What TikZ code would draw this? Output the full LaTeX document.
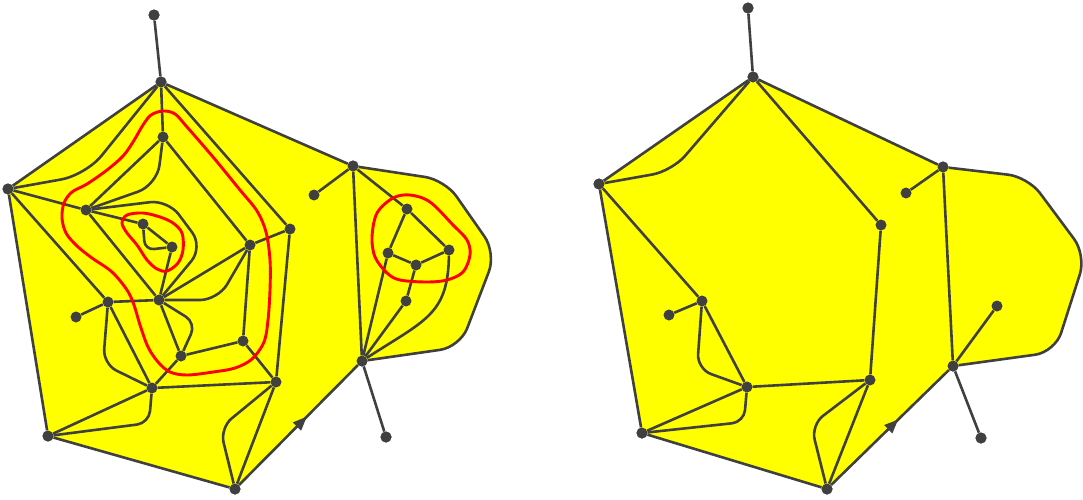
\documentclass[tikz,border=0pt]{standalone}
\usetikzlibrary{arrows.meta,decorations.markings}
\definecolor{dg}{RGB}{64,64,64}
\definecolor{yl}{RGB}{255,255,0}
\definecolor{rd}{RGB}{255,0,0}
\begin{document}
\begin{tikzpicture}[x=1pt,y=-1pt,
  dot/.style={circle,fill=dg,inner sep=0pt,minimum size=11pt},
  edge/.style={draw=dg,line width=2.6pt,line join=round},
  redline/.style={draw=rd,line width=2.9pt},
  midarrow/.style={postaction={decorate,decoration={markings,
      mark=at position 0.57 with {\arrow{Triangle[length=14pt,width=11pt]}}}}}]
\useasboundingbox (0,0) rectangle (1083,499);
% ---------- left diagram nodes ----------
\node[dot] (T0) at (154,15) {};
\node[dot] (A) at (161,82) {};
\node[dot] (B) at (163,137) {};
\node[dot] (L) at (8,189) {};
\node[dot] (C) at (86,210) {};
\node[dot] (D) at (143,224) {};
\node[dot] (E) at (172,247) {};
\node[dot] (F) at (250,245) {};
\node[dot] (G) at (290,229) {};
\node[dot] (H) at (159,300) {};
\node[dot] (I) at (108,302) {};
\node[dot] (Il) at (76,317) {};
\node[dot] (J) at (181,356) {};
\node[dot] (K) at (243,341) {};
\node[dot] (M) at (152,388) {};
\node[dot] (N) at (276,382) {};
\node[dot] (P) at (48,436) {};
\node[dot] (Q) at (235,489) {};
\node[dot] (R) at (353,166) {};
\node[dot] (Rl) at (314,195) {};
\node[dot] (S) at (407,209) {};
\node[dot] (U) at (388,253) {};
\node[dot] (V) at (416,265) {};
\node[dot] (W) at (449,250) {};
\node[dot] (X) at (406,301) {};
\node[dot] (Y) at (362,361) {};
\node[dot] (Yl) at (386,437) {};
% ---------- right diagram nodes ----------
\node[dot] (rT) at (748,8) {};
\node[dot] (rA) at (753,77) {};
\node[dot] (rL) at (599,184) {};
\node[dot] (rR) at (943,167) {};
\node[dot] (rRl) at (906,193) {};
\node[dot] (rG) at (881,225) {};
\node[dot] (rI) at (702,301) {};
\node[dot] (rIl) at (669,315) {};
\node[dot] (rM) at (747,387) {};
\node[dot] (rN) at (870,380) {};
\node[dot] (rP) at (642,433) {};
\node[dot] (rQ) at (827,489) {};
\node[dot] (rY) at (953,366) {};
\node[dot] (rYu) at (997,306) {};
\node[dot] (rYl) at (981,438) {};
% ---------- yellow faces ----------
\fill[yl] (L.center) -- (A.center) -- (R.center) [rounded corners=20pt] -- (445,180) -- (496,253) -- (460,347) [sharp corners] -- (Y.center) -- (Q.center) -- (P.center) -- cycle;
\fill[yl] (rL.center) -- (rA.center) -- (rR.center) [rounded corners=20pt] -- (1028,177) -- (1086,255) -- (1055,352) [sharp corners] -- (rY.center) -- (rQ.center) -- (rP.center) -- cycle;
% ---------- left edges ----------
\draw[edge] (T0)--(A) (A)--(L) (A)--(B) (A)--(G) (A)--(R)
  (L)--(C) (L)--(I) (L)--(P) (B)--(C) (B)--(F) (C)--(D) (C)--(H)
  (D)--(E) (E)--(H) (F)--(G) (F)--(H) (F)--(K) (G)--(N) (H)--(I) (H)--(J)
  (I)--(Il) (I)--(M) (J)--(K) (J)--(M) (K)--(N) (M)--(N) (M)--(P) (N)--(Q)
  (P)--(Q) (R)--(Rl) (R)--(S) (R)--(Y) (S)--(U) (S)--(W) (U)--(V) (U)--(Y)
  (V)--(W) (V)--(X) (X)--(Y) (Y)--(Yl);
\draw[edge,midarrow] (Q) -- (Y);
\draw[edge,rounded corners=20pt] (R) -- (445,180) -- (496,253) -- (460,347) -- (Y);
\draw[edge,rounded corners=25pt] (A) -- (86,175) -- (L);
\draw[edge,rounded corners=20pt] (B) -- (157,185) -- (C);
\draw[edge,rounded corners=18pt] (C) -- (168,200) -- (203,247) -- (H);
\draw[edge,rounded corners=9pt] (D) -- (145,250) -- (E);
\draw[edge,rounded corners=18pt] (F) -- (218,300) -- (H);
\draw[edge,rounded corners=12pt] (H) -- (196,323) -- (J);
\draw[edge,rounded corners=15pt] (I) -- (103,364) -- (M);
\draw[edge,rounded corners=12pt] (M) -- (149,423) -- (P);
\draw[edge,rounded corners=15pt] (N) -- (220,428) -- (Q);
\draw[edge] (W) .. controls (448,315) and (425,320) .. (Y);
% ---------- right edges ----------
\draw[edge] (rT)--(rA) (rA)--(rL) (rA)--(rG) (rA)--(rR) (rR)--(rRl) (rR)--(rY)
  (rL)--(rP) (rL)--(rI) (rI)--(rIl) (rI)--(rM) (rM)--(rN) (rM)--(rP)
  (rN)--(rG) (rN)--(rQ) (rP)--(rQ) (rY)--(rYu) (rY)--(rYl);
\draw[edge,midarrow] (rQ) -- (rY);
\draw[edge,rounded corners=20pt] (rR) -- (1028,177) -- (1086,255) -- (1055,352) -- (rY);
\draw[edge,rounded corners=20pt] (rA) -- (672,171) -- (rL);
\draw[edge,rounded corners=15pt] (rI) -- (697,369) -- (rM);
\draw[edge,rounded corners=12pt] (rM) -- (744,422) -- (rP);
\draw[edge,rounded corners=15pt] (rN) -- (811,425) -- (rQ);
% ---------- red curves ----------
\draw[redline] plot[smooth cycle,tension=0.55] coordinates {
 (163,111) (175,114) (187,127) (213,157) (240,190) (257,211) (266,232) (270,260)
 (270,290) (268,320) (264,342) (252,359) (235,368) (213,372) (187,375) (170,372)
 (158,362) (148,347) (140,325) (134,305) (127,290) (112,272) (92,258) (77,246)
 (66,233) (62,218) (64,203) (72,192) (87,184) (107,170) (123,156) (133,142)
 (143,125) (151,115)};
\draw[redline] plot[smooth cycle,tension=0.55] coordinates {
 (122,223) (127,215) (143,213) (160,217) (173,223) (182,233) (183,250) (178,263)
 (167,271) (157,269) (147,260) (137,245) (127,233)};
\draw[redline] plot[smooth cycle,tension=0.55] coordinates {
 (377,213) (393,198) (410,195) (430,202) (453,225) (467,240) (470,255) (463,272)
 (447,280) (427,282) (400,280) (387,273) (375,257) (372,237)};
% dots on top
\foreach \n in {T0,A,B,L,C,D,E,F,G,H,I,Il,J,K,M,N,P,Q,R,Rl,S,U,V,W,X,Y,Yl,
  rT,rA,rL,rR,rRl,rG,rI,rIl,rM,rN,rP,rQ,rY,rYu,rYl}
  \fill[dg] (\n.center) circle (5.5pt);
\end{tikzpicture}
\end{document}
